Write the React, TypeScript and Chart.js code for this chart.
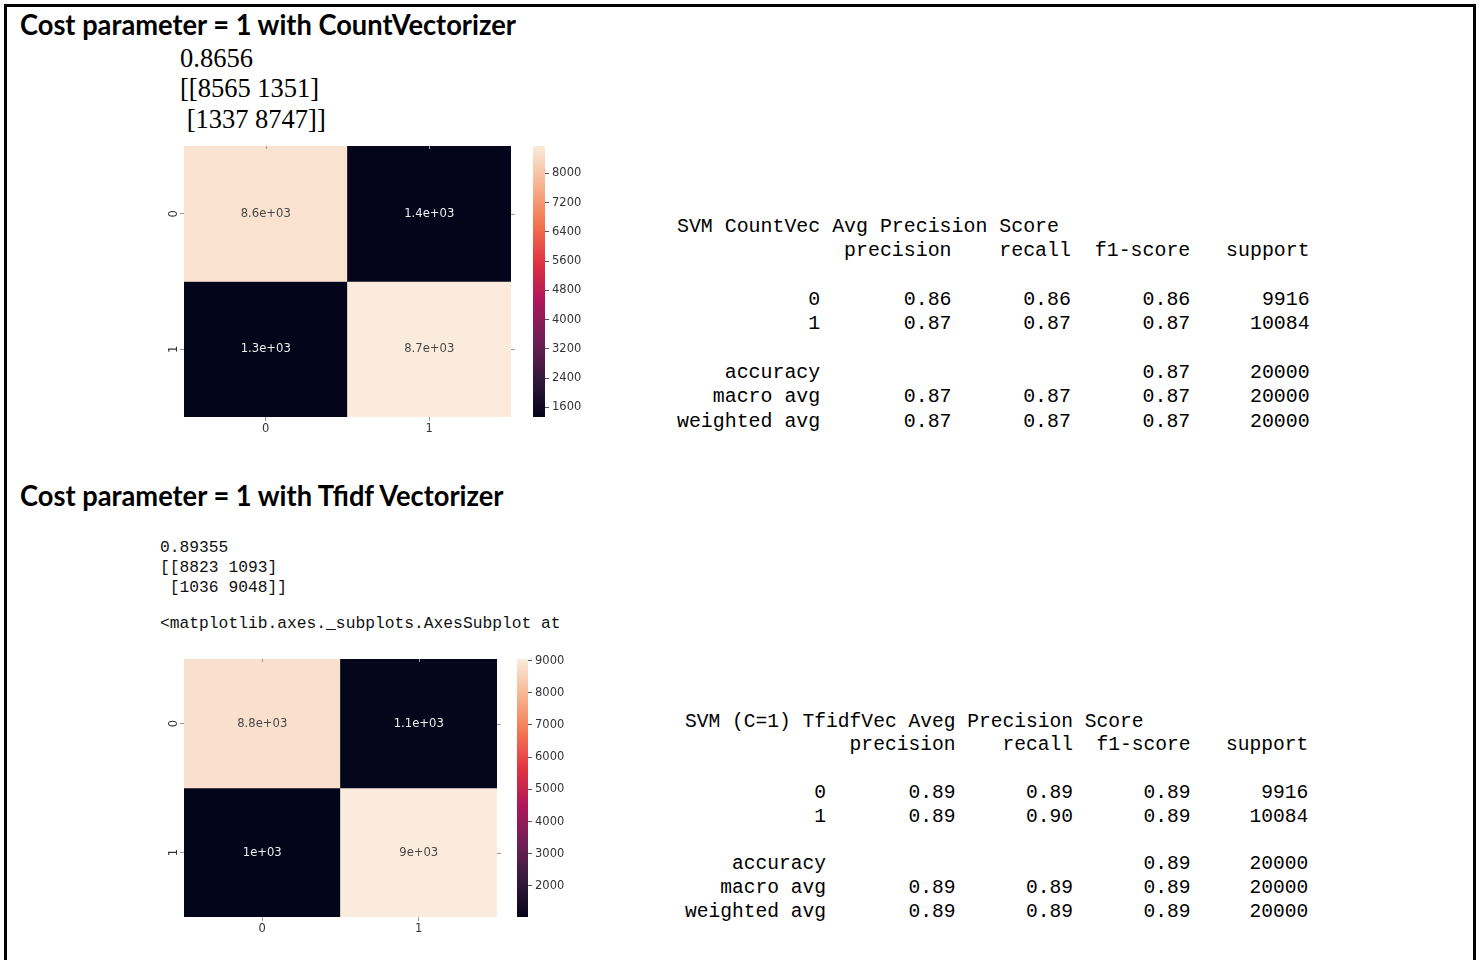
import React, { useEffect, useRef } from 'react';
import { Chart, registerables } from 'chart.js';

Chart.register(...registerables);

// ---------------- data ----------------
const classLabels = ['0', '1'];

const countVecScore = '0.8656';
const countVecRow0 = [8565, 1351];
const countVecRow1 = [1337, 8747];

const tfidfScore = '0.89355';
const tfidfRow0 = [8823, 1093];
const tfidfRow1 = [1036, 9048];

const countVecTitle = 'SVM CountVec Avg Precision Score';
const countVecPrecision = [0.86, 0.87];
const countVecRecall = [0.86, 0.87];
const countVecF1 = [0.86, 0.87];
const countVecAccuracy = 0.87;
const countVecMacro = [0.87, 0.87, 0.87];
const countVecWeighted = [0.87, 0.87, 0.87];

const tfidfTitle = 'SVM (C=1) TfidfVec Aveg Precision Score';
const tfidfPrecision = [0.89, 0.89];
const tfidfRecall = [0.89, 0.9];
const tfidfF1 = [0.89, 0.89];
const tfidfAccuracy = 0.89;
const tfidfMacro = [0.89, 0.89, 0.89];
const tfidfWeighted = [0.89, 0.89, 0.89];

const classSupport = [9916, 10084];
const totalSupport = 20000;

const countVecColorbarTicks = [1600, 2400, 3200, 4000, 4800, 5600, 6400, 7200, 8000];
const tfidfColorbarTicks = [2000, 3000, 4000, 5000, 6000, 7000, 8000, 9000];

// ---------------- helpers ----------------
const ROCKET = ['#03051A', '#35193E', '#701F57', '#AD1759', '#E13342', '#F37651', '#F6B48F', '#FAEBDD'];

function hexToRgb(h: string) {
  return [parseInt(h.slice(1, 3), 16), parseInt(h.slice(3, 5), 16), parseInt(h.slice(5, 7), 16)];
}

function rocketRgb(t: number) {
  const tt = Math.max(0, Math.min(1, t));
  const n = ROCKET.length - 1;
  const p = tt * n;
  const i = Math.min(Math.floor(p), n - 1);
  const f = p - i;
  const a = hexToRgb(ROCKET[i]);
  const b = hexToRgb(ROCKET[i + 1]);
  return a.map((v, k) => Math.round(v + (b[k] - v) * f));
}

function rocket(t: number) {
  const [r, g, b] = rocketRgb(t);
  return `rgb(${r},${g},${b})`;
}

function luminance(rgb: number[]) {
  const c = rgb.map((v) => {
    const s = v / 255;
    return s <= 0.03928 ? s / 12.92 : Math.pow((s + 0.055) / 1.055, 2.4);
  });
  return 0.2126 * c[0] + 0.7152 * c[1] + 0.0722 * c[2];
}

function fmt2g(v: number) {
  const s = v.toExponential(1);
  let [m, e] = s.split('e');
  if (m.endsWith('.0')) m = m.slice(0, -2);
  const sign = e[0];
  const d = e.slice(1).padStart(2, '0');
  return `${m}e${sign}${d}`;
}

function rj(s: string, w: number) {
  return s.length >= w ? s : ' '.repeat(w - s.length) + s;
}

function buildReport(
  precision: number[], recall: number[], f1: number[], support: number[],
  accuracy: number, macro: number[], weighted: number[], total: number
) {
  const W = 12;
  const lines: string[] = [];
  lines.push(rj('', W) + ' ' + ['precision', 'recall', 'f1-score', 'support'].map((h) => ' ' + rj(h, 9)).join(''));
  lines.push('');
  classLabels.forEach((c, i) => {
    lines.push(
      rj(c, W) + ' ' +
      [precision[i], recall[i], f1[i]].map((v) => ' ' + rj(v.toFixed(2), 9)).join('') +
      ' ' + rj(String(support[i]), 9)
    );
  });
  lines.push('');
  lines.push(rj('accuracy', W) + ' ' + ' ' + rj('', 9) + ' ' + rj('', 9) + ' ' + rj(accuracy.toFixed(2), 9) + ' ' + rj(String(total), 9));
  lines.push(rj('macro avg', W) + ' ' + macro.map((v) => ' ' + rj(v.toFixed(2), 9)).join('') + ' ' + rj(String(total), 9));
  lines.push(rj('weighted avg', W) + ' ' + weighted.map((v) => ' ' + rj(v.toFixed(2), 9)).join('') + ' ' + rj(String(total), 9));
  return lines;
}

let measureCanvas: HTMLCanvasElement | null = null;
function measure(text: string, font: string) {
  if (!measureCanvas) measureCanvas = document.createElement('canvas');
  const ctx = measureCanvas.getContext('2d')!;
  ctx.font = font;
  return ctx.measureText(text).width;
}

// ---------------- components ----------------
const TICK_FONT = { family: 'DejaVu Sans', size: 11.5 };
const TICK_COLOR = '#333333';

function Heatmap(props: { rows: number[][]; left: number; top: number; w: number; h: number }) {
  const ref = useRef<HTMLCanvasElement>(null);
  const padTop = 10, yAxisW = 40, padRight = 10, xAxisH = 30;
  const cw = yAxisW + props.w + padRight;
  const ch = padTop + props.h + xAxisH;
  useEffect(() => {
    const rows = props.rows;
    const all = rows.flat();
    const vmin = Math.min(...all);
    const vmax = Math.max(...all);
    const norm = (v: number) => (v - vmin) / (vmax - vmin);

    const cellLabels = {
      id: 'cellLabels',
      afterDatasetsDraw(chart: any) {
        const ctx = chart.ctx;
        ctx.save();
        ctx.font = '11.6px "DejaVu Sans"';
        ctx.textAlign = 'center';
        ctx.textBaseline = 'middle';
        chart.data.datasets.forEach((ds: any, r: number) => {
          const meta = chart.getDatasetMeta(r);
          meta.data.forEach((el: any, c: number) => {
            const v = rows[r][c];
            const lum = luminance(rocketRgb(norm(v)));
            ctx.fillStyle = lum > 0.408 ? '#474747' : '#eeeeee';
            const p = el.getCenterPoint();
            ctx.fillText(fmt2g(v), p.x, p.y);
          });
        });
        ctx.restore();
      },
    };

    const mirrorTicks = {
      id: 'mirrorTicks',
      afterDraw(chart: any) {
        const ctx = chart.ctx;
        const a = chart.chartArea;
        const xs = chart.scales.x;
        const ys = chart.scales.y;
        ctx.save();
        ctx.strokeStyle = '#9a9a9a';
        ctx.lineWidth = 1;
        ctx.beginPath();
        xs.ticks.forEach((_: any, i: number) => {
          const x = Math.round(xs.getPixelForTick(i)) + 0.5;
          ctx.moveTo(x, a.top);
          ctx.lineTo(x, a.top + 3);
        });
        ys.ticks.forEach((_: any, i: number) => {
          const y = Math.round(ys.getPixelForTick(i)) + 0.5;
          ctx.moveTo(a.right, y);
          ctx.lineTo(a.right + 4, y);
        });
        ctx.stroke();
        ctx.restore();
      },
    };

    const chart = new Chart(ref.current!, {
      type: 'bar',
      data: {
        labels: classLabels,
        datasets: rows.map((row, r) => ({
          data: row.map(() => [r, r + 1]),
          backgroundColor: row.map((v) => rocket(norm(v))),
          borderWidth: 0,
          barPercentage: 1,
          categoryPercentage: 1,
          grouped: false,
        })) as any,
      },
      options: {
        animation: false,
        responsive: false,
        maintainAspectRatio: false,
        layout: { padding: { top: padTop, right: padRight, left: 0, bottom: 0 } },
        plugins: { legend: { display: false }, tooltip: { enabled: false } },
        scales: {
          x: {
            border: { display: false },
            grid: { display: true, offset: false, drawOnChartArea: false, drawTicks: true, tickLength: 4, color: '#9a9a9a' },
            ticks: { color: TICK_COLOR, font: TICK_FONT, padding: 1, maxRotation: 0 },
            afterFit: (s: any) => { s.height = xAxisH; },
          },
          y: {
            min: 0,
            max: rows.length,
            reverse: true,
            border: { display: false },
            grid: { display: true, drawOnChartArea: false, drawTicks: true, tickLength: 4, color: '#9a9a9a' },
            afterBuildTicks: (s: any) => { s.ticks = classLabels.map((_, i) => ({ value: i + 0.5 })); },
            ticks: {
              color: TICK_COLOR,
              font: TICK_FONT,
              padding: 2.5,
              minRotation: 90,
              maxRotation: 90,
              crossAlign: 'center',
              callback: (_v: any, i: number) => classLabels[i],
            },
            afterFit: (s: any) => { s.width = yAxisW; },
          },
        },
      } as any,
      plugins: [cellLabels, mirrorTicks],
    });
    return () => chart.destroy();
  }, []);
  return (
    <canvas
      ref={ref}
      width={cw}
      height={ch}
      style={{ position: 'absolute', left: props.left - yAxisW, top: props.top - padTop, width: cw, height: ch }}
    />
  );
}

function Colorbar(props: { rows: number[][]; ticks: number[]; left: number; top: number; w: number; h: number }) {
  const ref = useRef<HTMLCanvasElement>(null);
  const pad = 10, axisW = 55;
  const cw = props.w + axisW;
  const ch = props.h + 2 * pad;
  useEffect(() => {
    const all = props.rows.flat();
    const vmin = Math.min(...all);
    const vmax = Math.max(...all);
    const chart = new Chart(ref.current!, {
      type: 'bar',
      data: {
        labels: [''],
        datasets: [{
          data: [[vmin, vmax]],
          backgroundColor: (ctx: any) => {
            const a = ctx.chart.chartArea;
            if (!a) return ROCKET[4];
            const g = ctx.chart.ctx.createLinearGradient(0, a.bottom, 0, a.top);
            const N = 40;
            for (let i = 0; i <= N; i++) g.addColorStop(i / N, rocket(i / N));
            return g;
          },
          borderWidth: 0,
          barPercentage: 1,
          categoryPercentage: 1,
        }] as any,
      },
      options: {
        animation: false,
        responsive: false,
        maintainAspectRatio: false,
        layout: { padding: { top: pad, bottom: pad, left: 0, right: 0 } },
        plugins: { legend: { display: false }, tooltip: { enabled: false } },
        scales: {
          x: { display: false },
          y: {
            position: 'right',
            min: vmin,
            max: vmax,
            border: { display: false },
            grid: { display: true, drawOnChartArea: false, drawTicks: true, tickLength: 4, color: '#555555' },
            afterBuildTicks: (s: any) => { s.ticks = props.ticks.map((v) => ({ value: v })); },
            ticks: {
              color: TICK_COLOR,
              font: TICK_FONT,
              padding: 3,
              callback: (v: any) => String(v),
            },
            afterFit: (s: any) => { s.width = axisW; },
          },
        },
      } as any,
    });
    return () => chart.destroy();
  }, []);
  return (
    <canvas
      ref={ref}
      width={cw}
      height={ch}
      style={{ position: 'absolute', left: props.left, top: props.top - pad, width: cw, height: ch }}
    />
  );
}

function FitTitle(props: { text: string; left: number; top: number; width: number }) {
  const fs = 28;
  const font = `700 ${fs}px Lato`;
  const w = measure(props.text, font) || props.width;
  const sx = props.width / w;
  return (
    <div
      style={{
        position: 'absolute', left: props.left, top: props.top,
        font, lineHeight: 1, whiteSpace: 'pre', color: '#000',
        transform: `scaleX(${sx})`, transformOrigin: 'left top',
      }}
    >
      {props.text}
    </div>
  );
}

function TextBlock(props: { lines: string[]; left: number; top: number; font: string; lh: number; color?: string }) {
  return (
    <div style={{ position: 'absolute', left: props.left, top: props.top, font: props.font, lineHeight: `${props.lh}px`, whiteSpace: 'pre', color: props.color || '#000' }}>
      {props.lines.map((l, i) => (
        <div key={i} style={{ height: props.lh }}>{l === '' ? '\u00a0' : l}</div>
      ))}
    </div>
  );
}

export default function App() {
  const countRows = [countVecRow0, countVecRow1];
  const tfidfRows = [tfidfRow0, tfidfRow1];
  const report1 = [countVecTitle, ...buildReport(countVecPrecision, countVecRecall, countVecF1, classSupport, countVecAccuracy, countVecMacro, countVecWeighted, totalSupport)];
  const report2 = [tfidfTitle, ...buildReport(tfidfPrecision, tfidfRecall, tfidfF1, classSupport, tfidfAccuracy, tfidfMacro, tfidfWeighted, totalSupport)];
  const fmtRow = (r: number[]) => r.join(' ');
  return (
    <div style={{ position: 'absolute', left: 0, top: 0, width: 1482, height: 960, background: '#fff', overflow: 'hidden' }}>
      <div style={{ position: 'absolute', left: 4, top: 4, width: 1472, height: 980, boxSizing: 'border-box', borderLeft: '3px solid #000', borderTop: '3px solid #000', borderRight: '3px solid #000' }} />

      <FitTitle text="Cost parameter = 1 with CountVectorizer" left={20} top={10.2} width={497} />
      <TextBlock
        lines={[countVecScore, `[[${fmtRow(countVecRow0)}]`, ` [${fmtRow(countVecRow1)}]]`]}
        left={180}
        top={42.75}
        font='26.5px "Liberation Serif"'
        lh={30.5}
      />
      <Heatmap rows={countRows} left={184} top={146} w={327} h={271} />
      <Colorbar rows={countRows} ticks={countVecColorbarTicks} left={533} top={146} w={12} h={271} />
      <TextBlock lines={report1} left={677} top={214.5} font='19.9px "Liberation Mono"' lh={24.4} />

      <FitTitle text="Cost parameter = 1 with Tfidf Vectorizer" left={20} top={481.2} width={487} />
      <TextBlock
        lines={[tfidfScore, `[[${fmtRow(tfidfRow0)}]`, ` [${fmtRow(tfidfRow1)}]]`]}
        left={160}
        top={537.5}
        font='16.3px "Liberation Mono"'
        lh={20}
        color="#111"
      />
      <TextBlock
        lines={['<matplotlib.axes._subplots.AxesSubplot at']}
        left={160}
        top={613.5}
        font='16.3px "Liberation Mono"'
        lh={20}
        color="#111"
      />
      <Heatmap rows={tfidfRows} left={184} top={659} w={313} h={258} />
      <Colorbar rows={tfidfRows} ticks={tfidfColorbarTicks} left={517} top={659} w={11} h={258} />
      <TextBlock lines={report2} left={685} top={710.5} font='19.6px "Liberation Mono"' lh={23.8} />
    </div>
  );
}
